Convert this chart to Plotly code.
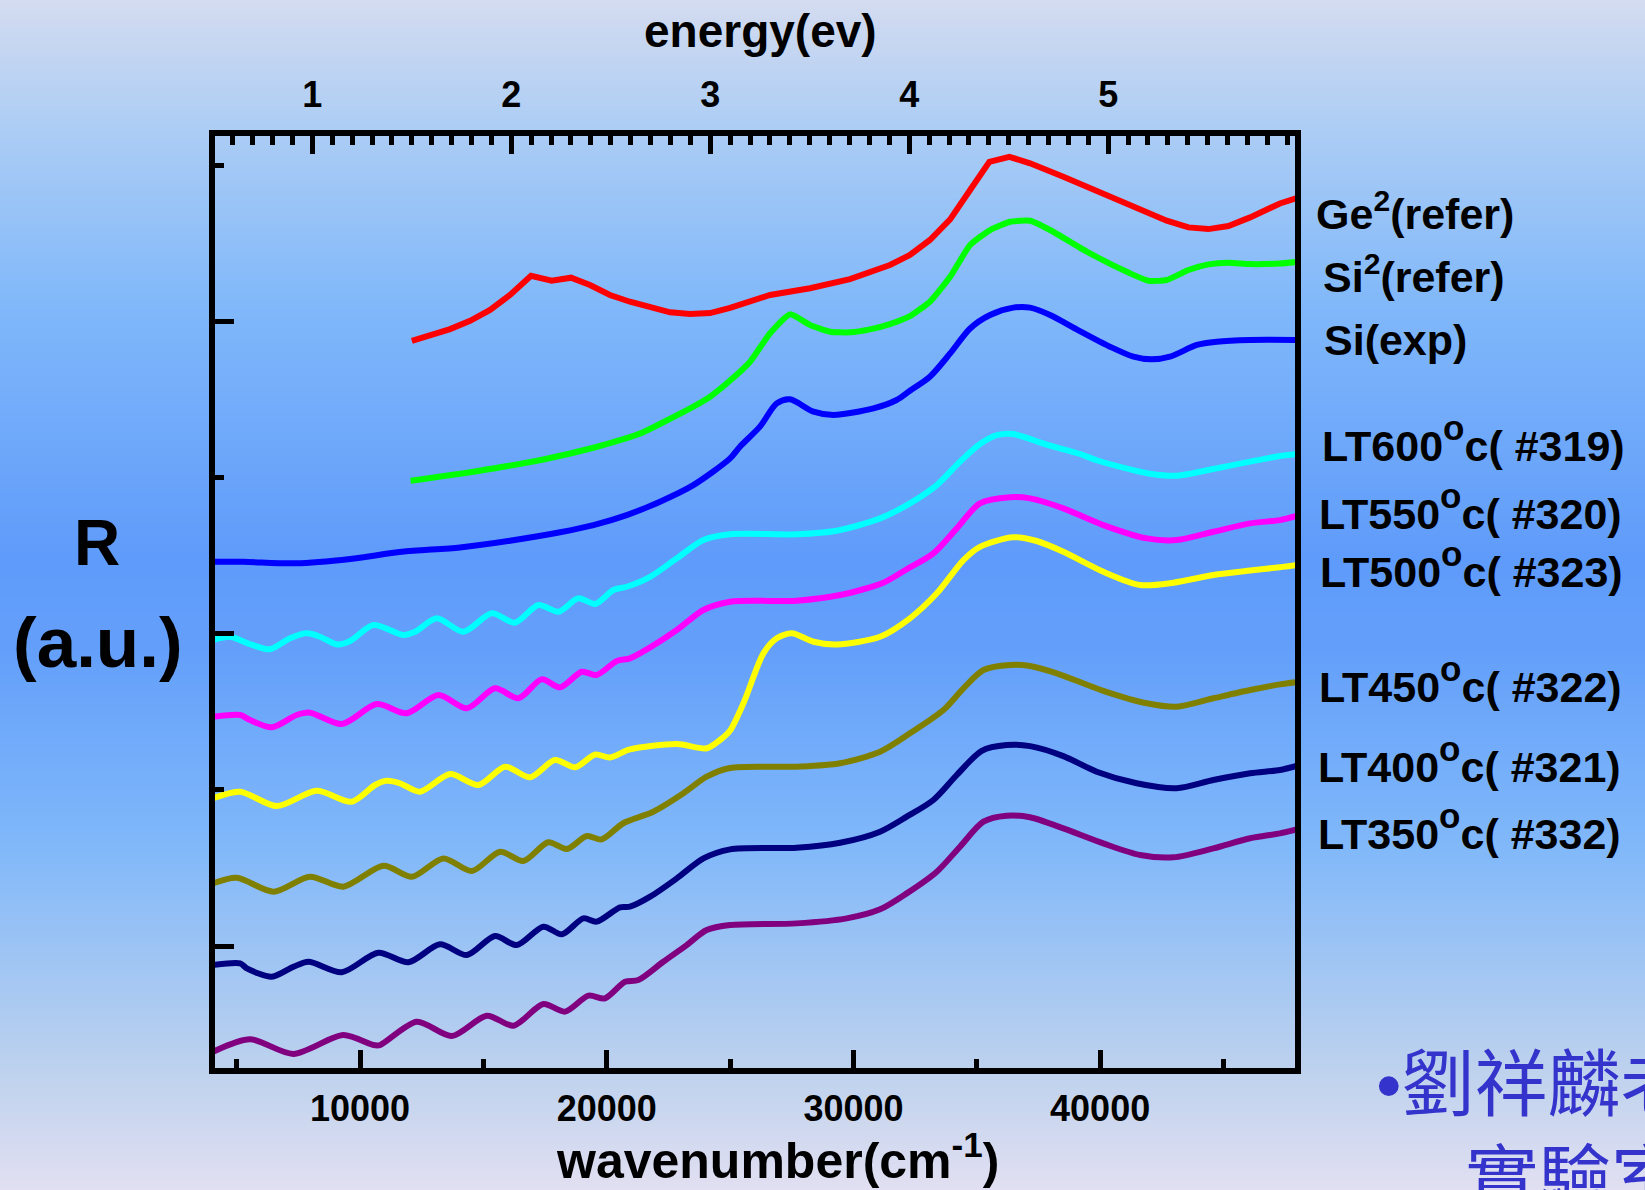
import base64, struct, zlib
import numpy as np
import plotly.graph_objects as go

# ---------------- data (wavenumber cm^-1, reflectance in offset a.u.) -------------
GE_W = [12100, 13650, 14460, 15270, 16080, 16930, 17770, 18550, 19320, 20130, 20940, 21750, 22570, 23380,
        24190, 25000, 26620, 28240, 29860, 31480, 32290, 33100, 33920, 34730, 35510, 36320, 37160, 38510,
        39860, 41210, 42700, 43580, 44390, 45200, 46080, 47290, 48000]
GE_R = [4.875, 4.95, 5.003, 5.072, 5.168, 5.291, 5.259, 5.279, 5.232, 5.168, 5.125, 5.087, 5.057, 5.046,
        5.052, 5.085, 5.168, 5.211, 5.27, 5.36, 5.424, 5.52, 5.652, 5.84, 6.021, 6.053, 6.011, 5.925,
        5.836, 5.738, 5.644, 5.601, 5.59, 5.61, 5.665, 5.754, 5.79]

SIREF_W = [12050, 14730, 17430, 19460, 20670, 21480, 23380, 24190, 25000, 25810, 26620, 27430, 28240, 29050,
           29860, 30670, 31480, 32290, 33100, 33920, 34730, 35540, 36350, 37160, 37970, 39590, 41210, 41960,
           42700, 43580, 44390, 45200, 46080, 47290, 48000]
SIREF_R = [3.979, 4.04, 4.115, 4.19, 4.245, 4.29, 4.442, 4.517, 4.62, 4.741, 4.923, 5.044, 4.976, 4.933,
           4.929, 4.948, 4.982, 5.033, 5.125, 5.285, 5.488, 5.584, 5.637, 5.643, 5.584, 5.434, 5.307, 5.259,
           5.264, 5.328, 5.364, 5.375, 5.366, 5.37, 5.38]

SIEXP_W = [4040, 5270, 7370, 9600, 11690, 14050, 16080, 18110, 19460, 20810, 22160, 23510, 25000, 25400,
           26210, 26890, 27430, 28380, 29190, 30810, 31750, 32290, 33100, 33920, 34730, 35540, 36480, 37160,
           37970, 39050, 40400, 41350, 42090, 42830, 43920, 44730, 46080, 48000]
SIEXP_R = [3.46, 3.46, 3.45, 3.478, 3.524, 3.552, 3.595, 3.649, 3.695, 3.759, 3.845, 3.951, 4.122, 4.197,
           4.325, 4.474, 4.5, 4.421, 4.4, 4.442, 4.496, 4.555, 4.645, 4.794, 4.954, 5.04, 5.087, 5.087,
           5.04, 4.948, 4.837, 4.773, 4.756, 4.773, 4.848, 4.869, 4.88, 4.88]

LT600_W = [4040, 4730, 5540, 6350, 7160, 7840, 8380, 9060, 9600, 10540, 11760, 12230, 13110, 14190, 15340,
           16280, 17230, 18040, 18850, 19530, 20270, 20810, 21760, 22840, 23920, 25000, 27700, 29320, 31080,
           32290, 33380, 34320, 35130, 35810, 36480, 37830, 39190, 39860, 41210, 42160, 43100, 44590, 46080,
           47290, 48000]
LT600_R = [2.959, 2.98, 2.933, 2.9, 2.97, 3.002, 2.98, 2.931, 2.953, 3.055, 2.991, 3.012, 3.098, 3.012, 3.13,
           3.07, 3.183, 3.14, 3.226, 3.19, 3.279, 3.3, 3.364, 3.482, 3.599, 3.636, 3.636, 3.659, 3.738,
           3.834, 3.951, 4.101, 4.214, 4.271, 4.278, 4.21, 4.15, 4.11, 4.052, 4.02, 4.011, 4.054, 4.101,
           4.137, 4.15]

LT550_W = [4040, 5140, 5540, 6420, 7430, 7970, 9260, 10680, 11890, 13180, 14330, 15470, 16420, 17360, 18110,
           18990, 19590, 20410, 20940, 21760, 22840, 23920, 25000, 27700, 29460, 31210, 32160, 33240, 34190,
           35130, 36350, 37160, 38510, 40130, 41890, 43100, 44590, 46080, 47290, 48000]
LT550_R = [2.468, 2.479, 2.447, 2.4, 2.479, 2.494, 2.421, 2.549, 2.49, 2.607, 2.522, 2.65, 2.586, 2.707, 2.656,
           2.756, 2.735, 2.825, 2.842, 2.912, 3.023, 3.151, 3.204, 3.211, 3.247, 3.326, 3.412, 3.514, 3.674,
           3.834, 3.873, 3.866, 3.802, 3.695, 3.61, 3.599, 3.652, 3.706, 3.727, 3.755]

LT500_W = [4040, 5140, 6620, 8240, 9660, 10610, 11080, 11620, 12430, 13650, 14800, 15880, 16890, 17900, 18720,
           19530, 20130, 20940, 22840, 24050, 24590, 25000, 25540, 26350, 26890, 27500, 28380, 29320, 31080,
           32290, 33380, 34460, 35130, 36480, 37430, 38510, 40130, 41620, 42970, 44590, 46080, 47290, 48000]
LT500_R = [1.946, 1.988, 1.896, 1.994, 1.924, 2.031, 2.058, 2.042, 1.988, 2.101, 2.031, 2.148, 2.08, 2.191, 2.144,
           2.226, 2.207, 2.259, 2.293, 2.266, 2.319, 2.38, 2.554, 2.874, 2.97, 3.002, 2.948, 2.931, 2.98,
           3.098, 3.258, 3.471, 3.556, 3.617, 3.593, 3.524, 3.396, 3.311, 3.326, 3.375, 3.404, 3.425, 3.44]

LT450_W = [4040, 5000, 6490, 7970, 9320, 10950, 12100, 13380, 14530, 15680, 16620, 17630, 18380, 19190, 19800,
           20670, 21890, 23110, 24050, 25000, 27700, 29460, 31080, 32290, 33650, 34460, 35270, 36350, 37160,
           38240, 40130, 41890, 43100, 44590, 46080, 47290, 48000]
LT450_R = [1.401, 1.437, 1.348, 1.444, 1.38, 1.514, 1.444, 1.561, 1.48, 1.604, 1.544, 1.664, 1.621, 1.704, 1.683,
           1.786, 1.86, 1.978, 2.084, 2.14, 2.148, 2.17, 2.244, 2.362, 2.511, 2.65, 2.767, 2.799, 2.793,
           2.746, 2.634, 2.554, 2.532, 2.586, 2.639, 2.675, 2.69]

LT400_W = [4040, 5140, 5410, 6420, 7300, 7910, 9260, 10740, 11960, 13240, 14330, 15470, 16350, 17430, 18180,
           19050, 19590, 20540, 20940, 21760, 22840, 23920, 25000, 27700, 29460, 31080, 32160, 33240, 34190,
           35200, 36210, 37160, 38510, 39860, 41480, 43100, 44590, 46080, 47290, 48000]
LT400_R = [0.878, 0.889, 0.857, 0.803, 0.867, 0.899, 0.832, 0.957, 0.896, 1.011, 0.942, 1.064, 1.006, 1.124, 1.075,
           1.177, 1.156, 1.248, 1.252, 1.316, 1.433, 1.561, 1.619, 1.629, 1.661, 1.732, 1.828, 1.935, 2.095,
           2.25, 2.287, 2.28, 2.216, 2.116, 2.042, 2.01, 2.063, 2.106, 2.127, 2.154]

LT350_W = [4040, 5540, 7300, 9320, 10540, 10810, 12300, 13720, 15140, 16220, 17430, 18310, 19260, 19930, 20740,
           21280, 22290, 23240, 24050, 25000, 27700, 29730, 31080, 32160, 33380, 34320, 35270, 36210, 37160,
           38510, 40130, 41620, 42970, 44590, 46080, 47290, 48000]
LT350_R = [0.323, 0.403, 0.309, 0.43, 0.366, 0.366, 0.515, 0.424, 0.554, 0.49, 0.629, 0.58, 0.682, 0.665, 0.771,
           0.782, 0.899, 1.006, 1.102, 1.134, 1.145, 1.177, 1.235, 1.337, 1.476, 1.636, 1.796, 1.834, 1.824,
           1.753, 1.657, 1.583, 1.568, 1.625, 1.69, 1.721, 1.747]

DEG = "<span style='font-size:50px'><sup>o</sup></span>"
SERIES_NAMES = ["Ge<sup>2</sup>(refer)", "Si<sup>2</sup>(refer)", "Si(exp)",
                "LT600" + DEG + "c( #319)", "LT550" + DEG + "c( #320)", "LT500" + DEG + "c( #323)",
                "LT450" + DEG + "c( #322)", "LT400" + DEG + "c( #321)", "LT350" + DEG + "c( #332)"]
SERIES_W = [GE_W, SIREF_W, SIEXP_W, LT600_W, LT550_W, LT500_W, LT450_W, LT400_W, LT350_W]
SERIES_R = [GE_R, SIREF_R, SIEXP_R, LT600_R, LT550_R, LT500_R, LT450_R, LT400_R, LT350_R]
COLORS = ["#ff0000", "#00ff00", "#0000ff", "#00ffff", "#ff00ff", "#ffff00", "#808000", "#000080", "#800080"]
SHAPES = ["linear", "spline", "spline", "spline", "spline", "spline", "spline", "spline", "spline"]
SMOOTH = [0, 0.5, 0.8, 0.8, 0.8, 0.8, 0.8, 0.8, 0.8]

X_RANGE = [4120, 47900]
Y_RANGE = [0.219, 6.186]
EV_PER_CM = 1 / 8065.54
X_MAJOR = [10000, 20000, 30000, 40000]
X_MINOR = [5000, 15000, 25000, 35000, 45000]
EV_TICKS = [1, 2, 3, 4, 5]

# ---------------- layout geometry --------------------------------------------------
FW, FH = 1645, 1190
L, R, T, B = 215, 350, 136, 122
PW, PH = FW - L - R, FH - T - B


def px(X):
    return (X - L) / PW


def py(Y):
    return (FH - B - Y) / PH


# label positions (pixels) for the right-hand series names
LABEL_X = [1314, 1321, 1322, 1320, 1317, 1318, 1317, 1316, 1316]
LABEL_Y = [211, 274, 340, 439, 507, 565, 680, 760, 827]

# ---------------- background gradient image ---------------------------------------
STOP_Y = [0, 130, 300, 560, 650, 850, 1070, 1190]
STOP_C = [(212, 220, 240), (172, 205, 245), (130, 185, 250), (95, 155, 250), (100, 160, 250),
          (130, 185, 250), (190, 210, 238), (226, 224, 242)]
yy = np.arange(FH)
cols = np.stack([np.interp(yy, STOP_Y, [c[i] for c in STOP_C]) for i in range(3)], axis=1).astype(np.uint8)


def make_png(rows):
    raw = b"".join(b"\x00" + bytes(r) for r in rows)

    def chunk(t, d):
        return struct.pack(">I", len(d)) + t + d + struct.pack(">I", zlib.crc32(t + d) & 0xffffffff)

    ihdr = struct.pack(">IIBBBBB", 1, len(rows), 8, 2, 0, 0, 0)
    return b"\x89PNG\r\n\x1a\n" + chunk(b"IHDR", ihdr) + chunk(b"IDAT", zlib.compress(raw)) + chunk(b"IEND", b"")


bg_uri = "data:image/png;base64," + base64.b64encode(make_png([tuple(int(v) for v in r) for r in cols])).decode()

FONT = "Liberation Sans, Arial, sans-serif"
CJK = "Noto Sans CJK TC, sans-serif"

fig = go.Figure()
for w, r, c, s, sm in zip(SERIES_W, SERIES_R, COLORS, SHAPES, SMOOTH):
    line = dict(color=c, width=6, shape=s)
    if s == "spline":
        line["smoothing"] = sm
    fig.add_trace(go.Scatter(x=w, y=r, mode="lines", line=line, showlegend=False, hoverinfo="skip"))
# invisible trace to activate the top energy axis
fig.add_trace(go.Scatter(x=[X_RANGE[0] * EV_PER_CM], y=[Y_RANGE[0]], xaxis="x2", mode="markers",
                         marker=dict(opacity=0), showlegend=False, hoverinfo="skip"))

tickfont = dict(family=FONT, size=36, color="black", weight="bold")
fig.update_layout(
    width=FW, height=FH,
    margin=dict(l=L, r=R, t=T, b=B),
    paper_bgcolor="rgb(150,190,245)",
    plot_bgcolor="rgba(0,0,0,0)",
    font=dict(family=FONT, color="black", weight="bold"),
    images=[dict(source=bg_uri, xref="paper", yref="paper", x=-L / PW, y=1 + T / PH,
                 sizex=FW / PW, sizey=FH / PH, sizing="stretch", xanchor="left", yanchor="top",
                 layer="below")],
    xaxis=dict(range=X_RANGE, showgrid=False, zeroline=False, showline=True, linecolor="black", linewidth=6,
               ticks="inside", tickvals=X_MAJOR, ticktext=[str(v) for v in X_MAJOR], ticklen=18, tickwidth=5,
               tickcolor="black", tickfont=tickfont, ticklabelstandoff=4,
               minor=dict(tickvals=X_MINOR, ticklen=9, tickwidth=5, ticks="inside", tickcolor="black",
                          showgrid=False)),
    xaxis2=dict(range=[X_RANGE[0] * EV_PER_CM, X_RANGE[1] * EV_PER_CM], overlaying="x", side="top",
                showgrid=False, zeroline=False, showline=True, linecolor="black", linewidth=6,
                ticks="inside", tickvals=EV_TICKS, ticklen=18, tickwidth=5, tickcolor="black",
                tickfont=tickfont, ticklabelstandoff=9,
                minor=dict(dtick=0.1, tick0=0, ticklen=9, tickwidth=4.5, ticks="inside", tickcolor="black",
                           showgrid=False)),
    yaxis=dict(range=Y_RANGE, showgrid=False, zeroline=False, showline=True, mirror=True, linecolor="black",
               linewidth=6, ticks="inside", tickvals=[1, 3, 5], ticklen=19, tickwidth=5, tickcolor="black",
               showticklabels=False,
               minor=dict(tickvals=[2, 4, 6], ticklen=9, tickwidth=5, ticks="inside", tickcolor="black",
                          showgrid=False)),
)

ann = []
for name, X, Y in zip(SERIES_NAMES, LABEL_X, LABEL_Y):
    ann.append(dict(text=name, x=px(X), y=py(Y), xref="paper", yref="paper", xanchor="left", yanchor="middle",
                    showarrow=False, font=dict(family=FONT, size=43, color="black", weight="bold")))
ann += [
    dict(text="energy(ev)", x=px(760), y=py(31), xref="paper", yref="paper", xanchor="center",
         yanchor="middle", showarrow=False, font=dict(family=FONT, size=46, color="black", weight="bold")),
    dict(text="wavenumber(cm<sup>-1</sup>)", x=px(777), y=py(1157), xref="paper", yref="paper",
         xanchor="center", yanchor="middle", showarrow=False,
         font=dict(family=FONT, size=50, color="black", weight="bold")),
    dict(text="R", x=px(97), y=py(543), xref="paper", yref="paper", xanchor="center", yanchor="middle",
         showarrow=False, font=dict(family=FONT, size=64, color="black", weight="bold")),
    dict(text="(a.u.)", x=px(98), y=py(642), xref="paper", yref="paper", xanchor="center", yanchor="middle",
         showarrow=False, font=dict(family=FONT, size=71, color="black", weight="bold")),
    dict(text="<span style='font-family:Liberation Sans'>•</span>劉祥麟老師<br>\u3000\u00a0實驗室",
         x=px(1374), y=py(1023), xref="paper", yref="paper", xanchor="left", yanchor="top", align="left",
         showarrow=False, font=dict(family=CJK, size=73, color="#3434cc", weight="normal")),
]
fig.update_layout(annotations=ann)

fig.write_html("out.html")
